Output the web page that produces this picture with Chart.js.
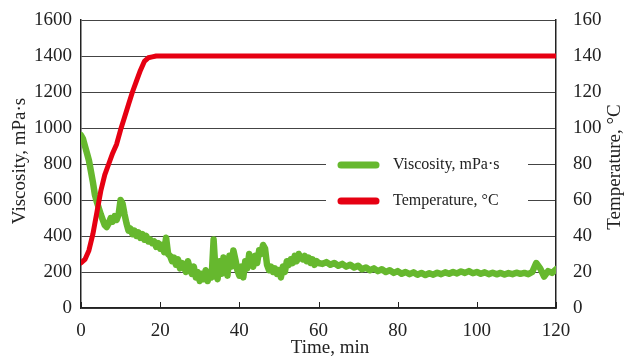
<!DOCTYPE html>
<html>
<head>
<meta charset="utf-8">
<script src="https://cdn.jsdelivr.net/npm/chart.js@4"></script>
<style>
  html, body { margin: 0; padding: 0; background: #fff; }
</style>
</head>
<body>
<canvas id="myChart" width="625" height="364"></canvas>
<script>
// viscosity readings (mPa·s) against time (min)
const viscTime = [
  0, 0.5, 1, 1.5, 2, 2.5, 3, 3.5, 4, 4.5, 5, 5.5, 6, 6.5, 7, 7.5, 8, 8.5, 9, 9.5,
  10, 10.5, 11, 11.5, 12, 12.5, 13, 13.5, 14, 14.5, 15, 15.5, 16, 16.5, 17, 17.5, 18, 18.5, 19, 19.5,
  20, 20.5, 21, 21.5, 22, 22.5, 23, 23.5, 24, 24.5, 25, 25.5, 26, 26.5, 27, 27.5, 28, 28.5, 29, 29.5,
  30, 30.5, 31, 31.5, 32, 32.5, 33, 33.5, 34, 34.5, 35, 35.5, 36, 36.5, 37, 37.5, 38, 38.5, 39, 39.5,
  40, 40.5, 41, 41.5, 42, 42.5, 43, 43.5, 44, 44.5, 45, 45.5, 46, 46.5, 47, 47.5, 48, 48.5, 49, 49.5,
  50, 50.5, 51, 51.5, 52, 52.5, 53, 53.5, 54, 54.5, 55, 55.5, 56, 56.5, 57, 57.5, 58, 58.5, 59, 59.5,
  60, 61, 62, 63, 64, 65, 66, 67, 68, 69, 70, 71, 72, 73, 74, 75, 76, 77, 78, 79,
  80, 81, 82, 83, 84, 85, 86, 87, 88, 89, 90, 91, 92, 93, 94, 95, 96, 97, 98, 99,
  100, 101, 102, 103, 104, 105, 106, 107, 108, 109, 110, 111, 112, 113, 114, 115, 116, 117, 118, 119, 120
];
const viscosity = [
  960, 940, 900, 860, 820, 760, 700, 630, 590, 555, 520, 490, 460, 450, 470, 500, 480, 510, 490, 520,
  600, 580, 520, 470, 430, 440, 410, 430, 400, 420, 390, 410, 380, 400, 370, 380, 360, 370, 340, 360,
  330, 350, 310, 390, 300, 290, 260, 280, 240, 270, 220, 250, 230, 200, 260, 220, 190, 230, 170, 200,
  150, 190, 160, 210, 150, 200, 170, 380, 200, 160, 260, 190, 280, 240, 180, 290, 230, 320, 270, 210,
  180, 230, 170, 260, 220, 300, 260, 230, 290, 250, 320, 300, 350, 330, 240, 210, 230, 200, 220, 190,
  210, 170, 230, 200, 260, 240, 270, 250, 290, 260, 300, 280, 270, 290, 260, 280, 250, 270, 240, 260,
  250, 245, 255, 240, 250, 235, 245, 230, 240, 225, 235, 215, 225, 210, 220, 205, 215, 200, 210, 195,
  205, 190, 200, 188, 198, 185, 195, 183, 193, 185, 196, 188, 198, 190, 200, 192, 203, 195, 205, 193,
  200, 190, 198, 188, 196, 187, 195, 186, 194, 188, 196, 190, 195, 188, 200, 250, 220, 175, 205, 195, 215
];

// temperature readings (°C) against time (min)
const tempTime = [0, 1, 2, 3, 4, 5, 6, 7, 8, 9, 10, 11, 12, 13, 14, 15, 16, 17, 18, 19, 120];
const temperature = [25, 27, 32, 41, 53, 65, 74, 80, 86, 91, 99, 106, 113, 120, 126, 132, 137, 139, 139.5, 140, 140];

const xTicksMax = 120;
const viscMax = 1600;
const tempMax = 160;

const green = '#66b82e';
const red = '#e60012';
const textColor = '#222';
const fontName = '"Liberation Serif", "Times New Roman", serif';

const viscPoints = viscTime.map((t, i) => ({ x: t, y: viscosity[i] }));
const tempPoints = tempTime.map((t, i) => ({ x: t, y: temperature[i] }));

const extras = {
  id: 'extras',
  afterDraw(chart) {
    const ctx = chart.ctx;
    const area = chart.chartArea;
    const xs = chart.scales.x;

    ctx.save();
    // inward tick marks on the time axis
    ctx.strokeStyle = '#222';
    ctx.lineWidth = 1;
    xs.ticks.forEach(t => {
      const px = Math.round(xs.getPixelForValue(t.value)) + 0.5;
      ctx.beginPath();
      ctx.moveTo(px, area.bottom);
      ctx.lineTo(px, area.bottom - 6);
      ctx.stroke();
    });

    // axis titles
    ctx.fillStyle = textColor;
    ctx.font = '19px ' + fontName;
    ctx.textAlign = 'center';
    ctx.textBaseline = 'middle';
    ctx.fillText('Time, min', 330, 348);

    ctx.save();
    ctx.translate(20, 161);
    ctx.rotate(-Math.PI / 2);
    ctx.fillText('Viscosity, mPa·s', 0, 0);
    ctx.restore();

    ctx.save();
    ctx.translate(615, 167);
    ctx.rotate(-Math.PI / 2);
    ctx.fillText('Temperature, °C', 0, 0);
    ctx.restore();

    // legend box
    ctx.fillStyle = '#fff';
    ctx.fillRect(326, 149, 202, 68);
    ctx.lineCap = 'round';
    ctx.lineWidth = 7;
    ctx.strokeStyle = green;
    ctx.beginPath();
    ctx.moveTo(341, 165);
    ctx.lineTo(376, 165);
    ctx.stroke();
    ctx.strokeStyle = red;
    ctx.beginPath();
    ctx.moveTo(341, 201);
    ctx.lineTo(376, 201);
    ctx.stroke();

    ctx.fillStyle = textColor;
    ctx.font = '16px ' + fontName;
    ctx.textAlign = 'left';
    ctx.fillText('Viscosity, mPa·s', 393, 165);
    ctx.fillText('Temperature, °C', 393, 201);
    ctx.restore();
  }
};

const tickFont = { family: fontName, size: 19 };
const plain = v => String(v);

// fixed axis boxes so the plot area lands where the original has it
function fixV(w) {
  return function (scale) {
    scale.width = w;
    scale.paddingTop = 0;
    scale.paddingBottom = 0;
  };
}

new Chart('myChart', {
  type: 'line',
  data: {
    datasets: [
      {
        label: 'Temperature, °C',
        data: tempPoints,
        yAxisID: 'y1',
        borderColor: red,
        borderWidth: 5,
        pointRadius: 0,
        borderJoinStyle: 'round',
        borderCapStyle: 'round',
        tension: 0
      },
      {
        label: 'Viscosity, mPa·s',
        data: viscPoints,
        yAxisID: 'y',
        borderColor: green,
        borderWidth: 6.5,
        pointRadius: 0,
        borderJoinStyle: 'round',
        borderCapStyle: 'round',
        tension: 0
      }
    ]
  },
  options: {
    responsive: false,
    animation: false,
    devicePixelRatio: 1,
    layout: { padding: { top: 20, left: 0, right: 0, bottom: 0 } },
    plugins: {
      legend: { display: false },
      tooltip: { enabled: false }
    },
    scales: {
      x: {
        type: 'linear',
        min: 0,
        max: xTicksMax,
        ticks: { stepSize: 20, color: textColor, font: tickFont, padding: 4, maxRotation: 0, callback: plain },
        grid: { display: false },
        border: { display: true, color: '#222', width: 1.5 },
        afterFit(scale) {
          scale.height = 56;
          scale.paddingLeft = 0;
          scale.paddingRight = 0;
        }
      },
      y: {
        position: 'left',
        min: 0,
        max: viscMax,
        ticks: { stepSize: 200, color: textColor, font: tickFont, padding: 9, callback: plain },
        grid: { color: '#444', lineWidth: 1, drawTicks: false },
        border: { display: true, color: '#222', width: 1.5 },
        afterFit: fixV(81)
      },
      y1: {
        position: 'right',
        min: 0,
        max: tempMax,
        ticks: { stepSize: 20, color: textColor, font: tickFont, padding: 17, callback: plain },
        grid: { display: false, drawTicks: false },
        border: { display: true, color: '#222', width: 1.5 },
        afterFit: fixV(69)
      }
    }
  },
  plugins: [extras]
});
</script>
</body>
</html>
